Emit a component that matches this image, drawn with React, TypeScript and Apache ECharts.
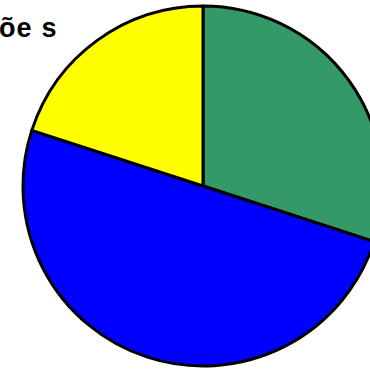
import React, { useEffect, useRef } from "react";
import * as echarts from "echarts";

const categories = ["Verde", "Azul", "Amarelo"];
const values = [30, 50, 20];
const colors = ["#339966", "#0000FF", "#FFFF00"];
const titleParts = ["õ", "e", "s"];

export default function App() {
  const ref = useRef<HTMLDivElement>(null);
  useEffect(() => {
    document.body.style.margin = "0";
    const chart = echarts.init(ref.current!, undefined, { renderer: "svg" });
    const font = {
      fontFamily: "Liberation Sans, Arial, sans-serif",
      fontWeight: "bold" as const,
      fontSize: 27,
      fill: "#000000",
    };
    chart.setOption({
      animation: false,
      backgroundColor: "#ffffff",
      graphic: [
        {
          type: "text",
          x: -1,
          y: 14,
          style: {
            text: `{a|${titleParts[0]}}{b|${titleParts[1]}}{c|${titleParts[2]}}`,
            ...font,
            verticalAlign: "top",
            rich: {
              a: { ...font, padding: [0, 1, 0, 0] },
              b: { ...font, padding: [0, 10, 0, 0] },
              c: { ...font },
            },
          },
        },
      ],
      series: [
        {
          type: "pie",
          center: [203, 186],
          radius: [0, 180],
          startAngle: 90,
          clockwise: true,
          label: { show: false },
          labelLine: { show: false },
          emphasis: { disabled: true },
          itemStyle: { borderColor: "#000000", borderWidth: 3 },
          data: categories.map((c, i) => ({
            name: c,
            value: values[i],
            itemStyle: { color: colors[i] },
          })),
        },
      ],
    });
    return () => chart.dispose();
  }, []);
  return <div ref={ref} style={{ width: 370, height: 369 }} />;
}
